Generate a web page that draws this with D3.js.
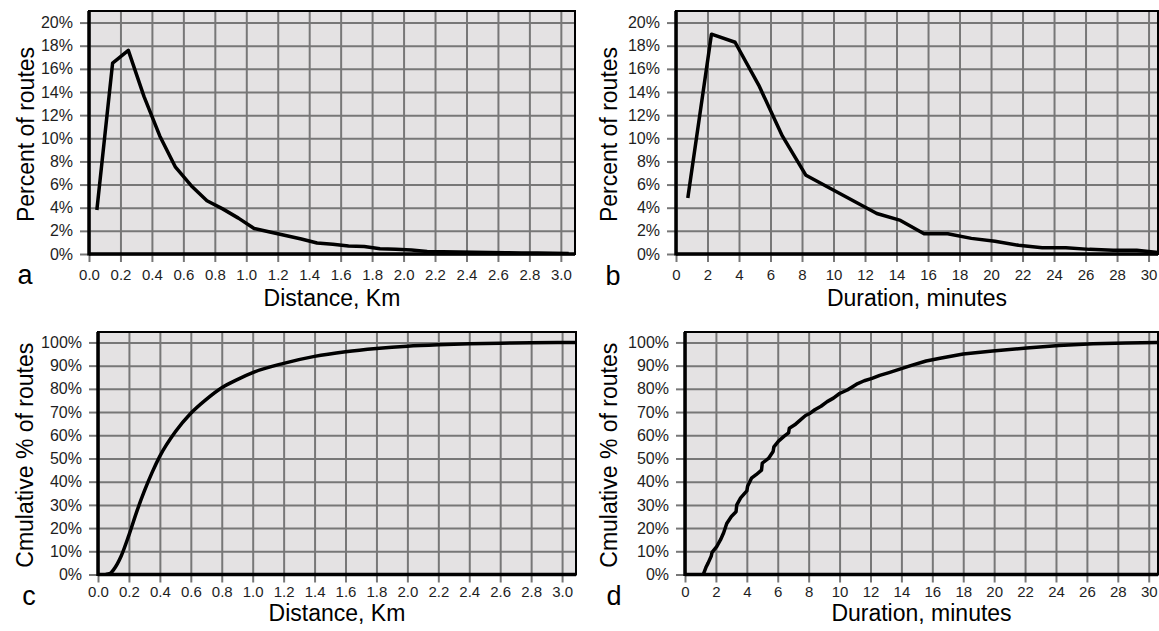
<!DOCTYPE html>
<html>
<head>
<meta charset="utf-8">
<script src="https://cdn.jsdelivr.net/npm/d3@7"></script>
<style>
body { margin: 0; background: #fff; }
text { font-family: "Liberation Sans", Arial, sans-serif; }
</style>
</head>
<body>
<script>
// a: share of routes by distance (bin midpoints, km)
const distMid = [0.05, 0.15, 0.25, 0.35, 0.45, 0.55, 0.65, 0.75, 0.85, 0.95, 1.05, 1.15, 1.25, 1.35, 1.45, 1.55,
    1.65, 1.75, 1.85, 1.95, 2.05, 2.15, 2.25, 2.35, 2.45, 2.55, 2.65, 2.75, 2.85, 2.95, 3.05];
const distPct = [3.8, 16.5, 17.6, 13.6, 10.2, 7.5, 5.9, 4.6, 3.9, 3.1, 2.2, 1.9, 1.6, 1.3, 0.95, 0.85,
    0.7, 0.65, 0.45, 0.42, 0.35, 0.22, 0.2, 0.18, 0.15, 0.13, 0.11, 0.09, 0.08, 0.06, 0.05];

// b: share of routes by duration (bin midpoints, minutes)
const durMid = [0.75, 2.25, 3.75, 5.25, 6.75, 8.25, 9.75, 11.25, 12.75, 14.25, 15.75, 17.25, 18.75, 20.25,
    21.75, 23.25, 24.75, 26.25, 27.75, 29.25, 30.75];
const durPct = [4.85, 19.0, 18.3, 14.6, 10.2, 6.8, 5.7, 4.6, 3.5, 2.9, 1.75, 1.75, 1.35, 1.1,
    0.75, 0.55, 0.55, 0.4, 0.33, 0.33, 0.1];

// c: cumulative share by distance
const cumDistKm = [0.05, 0.08, 0.1, 0.15, 0.2, 0.25, 0.3, 0.35, 0.4, 0.5, 0.6, 0.7, 0.8, 0.9, 1.0,
    1.2, 1.4, 1.6, 1.8, 2.0, 2.2, 2.4, 2.6, 2.8, 3.09];
const cumDistPct = [0, 0.5, 2, 8, 17, 27, 36, 44, 51, 61.5, 69.5, 75.5, 80.5, 84, 87,
    91, 94, 96, 97.4, 98.4, 99, 99.4, 99.7, 99.85, 100];

// d: cumulative share by duration (jagged, step-like)
const cumDurMin = [1.18, 1.35, 1.5, 1.7, 1.75, 2.05, 2.3, 2.5, 2.7, 3.0, 3.3, 3.35, 3.6, 4.0, 4.05, 4.3, 4.6,
    4.95, 5.0, 5.4, 5.7, 5.75, 6.05, 6.4, 6.7, 6.75, 7.1, 7.45, 7.8, 8.1, 8.4, 8.8, 9.2, 9.6, 10.0, 10.5,
    11.1, 11.6, 12.1, 12.6, 13.2, 13.9, 14.6, 15.6, 16.5, 18.0, 19.9, 22.1, 24.2, 26.4, 28.5, 30.6];
const cumDurPct = [0, 3, 5, 8, 9.5, 12, 15, 18, 22, 25, 27, 30, 33, 36, 38, 41.5, 43,
    45, 48, 50, 53, 55, 57.5, 59.5, 61, 63, 64.5, 66.5, 68.5, 69.5, 71, 72.5, 74.5, 76, 78, 79.5,
    82, 83.5, 84.5, 85.8, 87, 88.5, 90, 92, 93.2, 95, 96.3, 97.6, 98.7, 99.4, 99.8, 100];

// tick values
const distTicks = [0, 0.2, 0.4, 0.6, 0.8, 1.0, 1.2, 1.4, 1.6, 1.8, 2.0, 2.2, 2.4, 2.6, 2.8, 3.0];
const durTicks = [0, 2, 4, 6, 8, 10, 12, 14, 16, 18, 20, 22, 24, 26, 28, 30];
const pctTicks = [0, 2, 4, 6, 8, 10, 12, 14, 16, 18, 20];
const cumTicks = [0, 10, 20, 30, 40, 50, 60, 70, 80, 90, 100];

const width = 1159;
const height = 631;

const svg = d3.select("body").append("svg")
    .attr("width", width)
    .attr("height", height)
    .attr("viewBox", [0, 0, width, height]);

const panels = [
    {id: "a", xs: distMid, ys: distPct, xTicks: distTicks, yTicks: pctTicks, xFmt: d3.format(".1f"),
     xDomain: [0, 3.09], yDomain: [0, 21], left: 89, right: 575, top: 11, bottom: 254,
     xTitle: "Distance, Km", yTitle: "Percent of routes", curve: d3.curveLinear,
     tickPad: 7, titleY: 306, yTitleX: 34, labelX: 25, labelY: 284},
    {id: "b", xs: durMid, ys: durPct, xTicks: durTicks, yTicks: pctTicks, xFmt: d3.format("d"),
     xDomain: [0, 30.6], yDomain: [0, 21], left: 676, right: 1158, top: 11, bottom: 254,
     xTitle: "Duration, minutes", yTitle: "Percent of routes", curve: d3.curveLinear,
     tickPad: 7, titleY: 306, yTitleX: 617, labelX: 613, labelY: 285},
    {id: "c", xs: cumDistKm, ys: cumDistPct, xTicks: distTicks, yTicks: cumTicks, xFmt: d3.format(".1f"),
     xDomain: [0, 3.09], yDomain: [0, 104.5], left: 98, right: 576, top: 332, bottom: 574.5,
     xTitle: "Distance, Km", yTitle: "Cmulative % of routes", curve: d3.curveMonotoneX,
     tickPad: 4, titleY: 621, yTitleX: 33, labelX: 29, labelY: 605},
    {id: "d", xs: cumDurMin, ys: cumDurPct, xTicks: durTicks, yTicks: cumTicks, xFmt: d3.format("d"),
     xDomain: [0, 30.6], yDomain: [0, 104.5], left: 685, right: 1158, top: 332, bottom: 574.5,
     xTitle: "Duration, minutes", yTitle: "Cmulative % of routes", curve: d3.curveLinear,
     tickPad: 4, titleY: 621, yTitleX: 617, labelX: 614, labelY: 605}
];

const gridColor = "#777";

panels.forEach(p => {
    const x = d3.scaleLinear(p.xDomain, [p.left, p.right]);
    const y = d3.scaleLinear(p.yDomain, [p.bottom, p.top]);
    const g = svg.append("g");
    // plot background
    g.append("rect")
        .attr("x", p.left)
        .attr("y", p.top)
        .attr("width", p.right - p.left)
        .attr("height", p.bottom - p.top)
        .attr("fill", "#e4e2e3");
    // x axis + vertical grid
    g.append("g")
        .attr("transform", `translate(0,${p.bottom})`)
        .call(d3.axisBottom(x).tickValues(p.xTicks).tickFormat(p.xFmt).tickSize(8).tickPadding(p.tickPad))
        .call(a => a.select(".domain").remove())
        .call(a => a.selectAll(".tick line").attr("stroke", gridColor).attr("stroke-width", 2))
        .call(a => a.selectAll(".tick line").clone()
            .attr("y2", -(p.bottom - p.top)))
        .call(a => a.selectAll(".tick text")
            .attr("fill", "#1e1e1e")
            .attr("font-size", 15)
            .attr("font-family", null));
    // y axis + horizontal grid
    g.append("g")
        .attr("transform", `translate(${p.left},0)`)
        .call(d3.axisLeft(y).tickValues(p.yTicks).tickFormat(d => d + "%").tickSize(9).tickPadding(7))
        .call(a => a.select(".domain").remove())
        .call(a => a.selectAll(".tick line").attr("stroke", gridColor).attr("stroke-width", 2))
        .call(a => a.selectAll(".tick line").clone()
            .attr("x2", p.right - p.left))
        .call(a => a.selectAll(".tick text")
            .attr("fill", "#1e1e1e")
            .attr("font-size", 16)
            .attr("font-family", null));
    // data line, clipped to the plot box
    g.append("clipPath")
        .attr("id", "clip-" + p.id)
        .append("rect")
        .attr("x", p.left)
        .attr("y", p.top)
        .attr("width", p.right - p.left)
        .attr("height", p.bottom - p.top);
    const line = d3.line()
        .x(i => x(p.xs[i]))
        .y(i => y(p.ys[i]))
        .curve(p.curve);
    g.append("path")
        .attr("clip-path", `url(#clip-${p.id})`)
        .attr("d", line(d3.range(p.xs.length)))
        .attr("fill", "none")
        .attr("stroke", "#000")
        .attr("stroke-width", 3.5)
        .attr("stroke-linejoin", "round");
    // box: thin top/right, heavy left/bottom
    g.append("rect")
        .attr("x", p.left)
        .attr("y", p.top)
        .attr("width", p.right - p.left)
        .attr("height", p.bottom - p.top)
        .attr("fill", "none")
        .attr("stroke", "#000")
        .attr("stroke-width", 2);
    g.append("line")
        .attr("x1", p.left).attr("x2", p.left)
        .attr("y1", p.top).attr("y2", p.bottom + 1.5)
        .attr("stroke", "#000").attr("stroke-width", 3.5);
    g.append("line")
        .attr("x1", p.left).attr("x2", p.right)
        .attr("y1", p.bottom).attr("y2", p.bottom)
        .attr("stroke", "#000").attr("stroke-width", 3.5);
    // titles
    g.append("text")
        .attr("x", (p.left + p.right) / 2)
        .attr("y", p.titleY)
        .attr("text-anchor", "middle")
        .attr("font-size", 23)
        .attr("fill", "#000")
        .text(p.xTitle);
    g.append("text")
        .attr("transform", `translate(${p.yTitleX},${(p.top + p.bottom) / 2 + 2}) rotate(-90)`)
        .attr("text-anchor", "middle")
        .attr("font-size", 23)
        .attr("fill", "#000")
        .text(p.yTitle);
    g.append("text")
        .attr("x", p.labelX)
        .attr("y", p.labelY)
        .attr("text-anchor", "middle")
        .attr("font-size", 27)
        .attr("fill", "#000")
        .text(p.id);
});
</script>
</body>
</html>
